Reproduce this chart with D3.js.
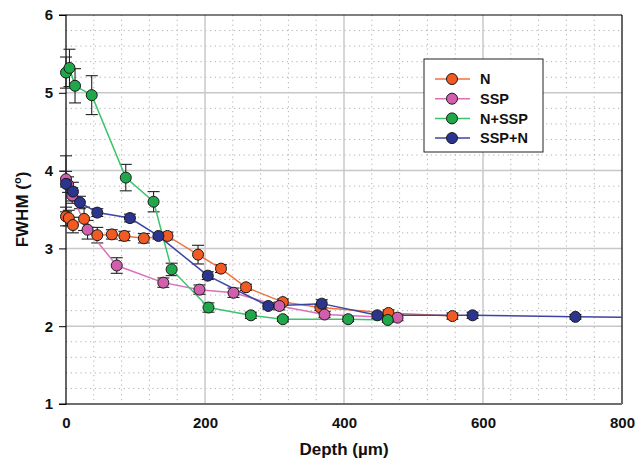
<!DOCTYPE html>
<html>
<head>
<meta charset="utf-8">
<script src="https://cdn.jsdelivr.net/npm/d3@7"></script>
<style>
  body { margin: 0; background: #fff; }
  text { font-family: Arial, "Liberation Sans", sans-serif; font-weight: bold; }
</style>
</head>
<body>
<div id="chart"></div>
<script>
// depth (um), FWHM (deg) and error bar half-height for each treatment
const nDepth   = [0, 4, 10, 26, 45, 66, 84, 112, 146, 190, 223, 259, 312, 366, 464, 556];
const nFwhm    = [3.41, 3.39, 3.30, 3.38, 3.17, 3.18, 3.16, 3.13, 3.16, 2.92, 2.74, 2.50, 2.31, 2.24, 2.17, 2.13];
const nErr     = [0.12, 0.10, 0.10, 0.15, 0.10, 0.06, 0.06, 0.06, 0.05, 0.12, 0.05, 0.04, 0.04, 0.04, 0.04, 0.04];

const sspDepth = [0, 3, 9, 31, 73, 140, 192, 241, 307, 372, 477];
const sspFwhm  = [3.89, 3.82, 3.68, 3.24, 2.78, 2.56, 2.47, 2.43, 2.26, 2.15, 2.11];
const sspErr   = [0.10, 0.10, 0.10, 0.12, 0.10, 0.06, 0.06, 0.06, 0.05, 0.04, 0.04];

const nsDepth  = [0, 5, 13, 37, 86, 126, 152, 205, 266, 312, 406, 463];
const nsFwhm   = [5.26, 5.32, 5.09, 4.97, 3.91, 3.60, 2.73, 2.24, 2.14, 2.09, 2.09, 2.08];
const nsErr    = [0.20, 0.24, 0.22, 0.25, 0.17, 0.13, 0.08, 0.06, 0.04, 0.03, 0.03, 0.03];

const snDepth  = [0, 10, 20, 45, 92, 133, 204, 291, 368, 448, 585, 733, 850];
const snFwhm   = [3.83, 3.73, 3.59, 3.46, 3.39, 3.16, 2.65, 2.26, 2.29, 2.14, 2.14, 2.12, 2.11];
const snErr    = [0.36, 0.12, 0.08, 0.05, 0.05, 0.04, 0.05, 0.04, 0.05, 0.04, 0.04, 0.03, 0.03];

const seriesNames = ["N", "SSP", "N+SSP", "SSP+N"];
const fillColors  = ["#f15a22", "#d15fae", "#1fa84a", "#2b3590"];
const lineColors  = ["#f2713f", "#da70bd", "#3cc46c", "#3c44a2"];

const xTicks = [0, 200, 400, 600, 800];
const yTicks = [1, 2, 3, 4, 5, 6];

const series = [
  [nDepth, nFwhm, nErr],
  [sspDepth, sspFwhm, sspErr],
  [nsDepth, nsFwhm, nsErr],
  [snDepth, snFwhm, snErr]
].map(([xs, ys, es], i) => ({
  name: seriesNames[i],
  fill: fillColors[i],
  stroke: lineColors[i],
  points: xs.map((x, j) => ({x: x, y: ys[j], e: es[j]}))
}));

const width = 636, height = 459;
const margin = {top: 15, right: 14, bottom: 55, left: 66};
const w = width - margin.left - margin.right;
const h = height - margin.top - margin.bottom;

const svg = d3.select('#chart').append('svg')
  .attr('width', width)
  .attr('height', height);

const g = svg.append('g')
  .attr('transform', `translate(${margin.left},${margin.top})`);

const x = d3.scaleLinear().domain([0, 800]).range([0, w]);
const y = d3.scaleLinear().domain([1, 6]).range([h, 0]);

svg.append('clipPath').attr('id', 'clip')
  .append('rect').attr('x', -8).attr('y', -8).attr('width', w + 8).attr('height', h + 16);

// minor dotted grid
const xMinor = d3.range(0, 801, 40).filter(v => v % 200 !== 0);
const yMinor = d3.range(1, 6.001, 0.2).filter(v => Math.abs(v - Math.round(v)) > 0.01);

g.append('g').selectAll('line')
  .data(xMinor)
  .join('line')
    .attr('x1', d => x(d)).attr('x2', d => x(d))
    .attr('y1', 0).attr('y2', h)
    .attr('stroke', '#b0b0b0')
    .attr('stroke-dasharray', '1.2,3.6');

g.append('g').selectAll('line')
  .data(yMinor)
  .join('line')
    .attr('x1', 0).attr('x2', w)
    .attr('y1', d => y(d)).attr('y2', d => y(d))
    .attr('stroke', '#b0b0b0')
    .attr('stroke-dasharray', '1.2,3.6');

// major grid
g.append('g').selectAll('line')
  .data(xTicks.slice(1, -1))
  .join('line')
    .attr('x1', d => x(d)).attr('x2', d => x(d))
    .attr('y1', 0).attr('y2', h)
    .attr('stroke', '#c8c8c8')
    .attr('stroke-width', 1.5);

g.append('g').selectAll('line')
  .data(yTicks.slice(1, -1))
  .join('line')
    .attr('x1', 0).attr('x2', w)
    .attr('y1', d => y(d)).attr('y2', d => y(d))
    .attr('stroke', '#c8c8c8')
    .attr('stroke-width', 1.5);

// frame
g.append('line').attr('x1', 0).attr('x2', w).attr('y1', 0).attr('y2', 0)
  .attr('stroke', '#000').attr('stroke-width', 1.2);
g.append('line').attr('x1', w).attr('x2', w).attr('y1', 0).attr('y2', h)
  .attr('stroke', '#000').attr('stroke-width', 1.2);
g.append('line').attr('x1', 0).attr('x2', w).attr('y1', h).attr('y2', h)
  .attr('stroke', '#6e6e6e').attr('stroke-width', 2);

// y axis
const yAxis = d3.axisLeft(y).tickValues(yTicks).tickFormat(d3.format('d')).tickSize(7).tickPadding(6);
g.append('g')
  .call(yAxis)
  .call(a => a.select('.domain').attr('stroke', '#000').attr('stroke-width', 1.2).attr('d', `M-7,0H0V${h}H-7`))
  .call(a => a.selectAll('.tick line').attr('stroke', '#000'))
  .call(a => a.selectAll('.tick text').attr('font-size', '15px').attr('fill', '#111'));

// x axis labels
const xAxis = d3.axisBottom(x).tickValues(xTicks).tickFormat(d3.format('d')).tickSize(0).tickPadding(13);
g.append('g')
  .attr('transform', `translate(0,${h})`)
  .call(xAxis)
  .call(a => a.select('.domain').remove())
  .call(a => a.selectAll('.tick text').attr('font-size', '15px').attr('fill', '#111'));

// axis titles
svg.append('text')
  .attr('x', margin.left + w / 2)
  .attr('y', 455)
  .attr('text-anchor', 'middle')
  .attr('font-size', '17px')
  .attr('fill', '#111')
  .text('Depth (\u00b5m)');

const yTitle = svg.append('text')
  .attr('transform', `translate(28,${margin.top + h / 2}) rotate(-90)`)
  .attr('text-anchor', 'middle')
  .attr('font-size', '17px')
  .attr('fill', '#111');
yTitle.append('tspan').text('FWHM (');
yTitle.append('tspan').attr('font-size', '11px').attr('dy', -7).text('o');
yTitle.append('tspan').attr('dy', 7).text(')');

// data layer
const plot = g.append('g').attr('clip-path', 'url(#clip)');

// error bars
series.forEach(s => {
  const eb = plot.append('g').attr('stroke', '#222').attr('stroke-width', 1.1);
  s.points.forEach(p => {
    const cx = x(p.x), y1 = y(p.y + p.e), y2 = y(p.y - p.e);
    eb.append('line').attr('x1', cx).attr('x2', cx).attr('y1', y1).attr('y2', y2);
    eb.append('line').attr('x1', cx - 6).attr('x2', cx + 6).attr('y1', y1).attr('y2', y1);
    eb.append('line').attr('x1', cx - 6).attr('x2', cx + 6).attr('y1', y2).attr('y2', y2);
  });
});

const line = d3.line().x(d => x(d.x)).y(d => y(d.y));

series.forEach(s => {
  plot.append('path')
    .datum(s.points)
    .attr('fill', 'none')
    .attr('stroke', s.stroke)
    .attr('stroke-width', 1.5)
    .attr('d', line);
});

series.forEach(s => {
  plot.append('g').selectAll('circle')
    .data(s.points)
    .join('circle')
      .attr('cx', d => x(d.x))
      .attr('cy', d => y(d.y))
      .attr('r', 5.5)
      .attr('fill', s.fill)
      .attr('stroke', '#1a1a1a')
      .attr('stroke-width', 1);
});

// legend
const lg = svg.append('g').attr('transform', 'translate(424,59)');
lg.append('rect')
  .attr('width', 119).attr('height', 93)
  .attr('fill', '#fff')
  .attr('stroke', '#222')
  .attr('stroke-width', 1);

series.forEach((s, i) => {
  const row = lg.append('g').attr('transform', `translate(0,${20 + i * 19.7})`);
  row.append('line').attr('x1', 11).attr('x2', 46).attr('y1', 0).attr('y2', 0)
    .attr('stroke', s.stroke).attr('stroke-width', 1.5);
  row.append('circle').attr('cx', 28).attr('cy', 0).attr('r', 5.5)
    .attr('fill', s.fill).attr('stroke', '#1a1a1a');
  row.append('text').attr('x', 56).attr('y', 0).attr('dy', '0.36em')
    .attr('font-size', '14.5px').attr('fill', '#111')
    .text(s.name);
});
</script>
</body>
</html>
